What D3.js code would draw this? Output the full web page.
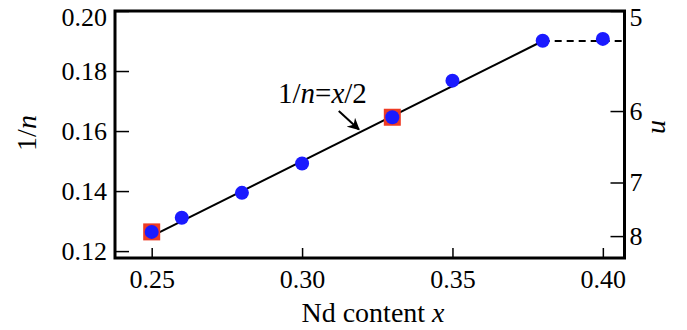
<!DOCTYPE html>
<meta charset="utf-8">
<style>
body { margin: 0; background: #fff; }
.axis .domain { display: none; }
.axis line { stroke: #000; stroke-width: 1.5px; }
</style>
<svg width="687" height="330"></svg>
<script src="https://cdn.jsdelivr.net/npm/d3@7"></script>
<script>

// measured points (Nd content x, 1/n)
var ndContent = [0.25, 0.26, 0.28, 0.30, 0.33, 0.35, 0.38, 0.40];
var invN = [0.1264, 0.1311, 0.1394, 0.1492, 0.1646, 0.1768, 0.1901, 0.1907];

// points highlighted with red squares
var squareX = [0.25, 0.33];
var squareY = [0.1264, 0.1646];

// 1/n = x/2 line and the flat dashed part
var fitX = [0.25, 0.38];
var fitY = [0.125, 0.19];
var dashX = [0.38, 0.4072];
var dashY = [0.19, 0.19];

// ticks
var xTicks = [0.25, 0.30, 0.35, 0.40];
var yTicks = [0.12, 0.14, 0.16, 0.18, 0.20];
var nTicks = [5, 6, 7, 8];

// annotation
var noteX = 0.292, noteY = 0.1693;
var arrowX = [0.3122, 0.3189], arrowY = [0.1667, 0.1605];

var serif = "\"Liberation Serif\", \"DejaVu Serif\", \"Times New Roman\", serif";

var svg = d3.select("svg")
    .attr("font-family", serif)
    .style("font-family", serif);

var xScale = d3.scaleLinear().domain([0.2378, 0.4072]).range([115, 624.5]),
    yScale = d3.scaleLinear().domain([0.1177, 0.2]).range([258, 11]);

var x0 = xScale.range()[0], x1 = xScale.range()[1],
    y0 = yScale.range()[1], y1 = yScale.range()[0];

svg.append("defs").append("marker")
    .attr("id", "arrow")
    .attr("viewBox", "0 0 10 10")
    .attr("refX", 9).attr("refY", 5)
    .attr("markerWidth", 6).attr("markerHeight", 6)
    .attr("orient", "auto")
  .append("path")
    .attr("d", "M0,0 L10,5 L0,10 L3,5 z")
    .attr("fill", "#000");

function styleAxis(g) {
  g.attr("font-family", serif)
   .attr("font-size", 26);
  g.selectAll("text")
   .style("font-family", serif)
   .style("font-size", "26px")
   .attr("fill", "#000");
}

// axes, ticks pointing inward
svg.append("g")
    .attr("class", "axis")
    .attr("transform", "translate(0," + y1 + ")")
    .call(d3.axisBottom(xScale).tickValues(xTicks).tickSize(-10).tickPadding(12)
      .tickFormat(d3.format(".2f")))
    .call(styleAxis);

svg.append("g")
    .attr("class", "axis")
    .attr("transform", "translate(" + x0 + ",0)")
    .call(d3.axisLeft(yScale).tickValues(yTicks).tickSize(-14).tickPadding(8)
      .tickFormat(d3.format(".2f")))
    .call(styleAxis)
    .selectAll("text")
    .filter(function(d) { return d === 0.20; })
    .attr("dy", "0.55em");

svg.append("g")
    .attr("class", "axis")
    .attr("transform", "translate(" + x1 + ",0)")
    .call(d3.axisRight(yScale).tickValues(nTicks.map(function(n) { return 1 / n; }))
      .tickSize(-14).tickPadding(5)
      .tickFormat(function(d) { return Math.round(1 / d); }))
    .call(styleAxis)
    .selectAll("text")
    .filter(function(d) { return Math.round(1 / d) === 5; })
    .attr("dy", "0.55em");

// frame
svg.append("rect")
    .attr("x", x0).attr("y", y0)
    .attr("width", x1 - x0).attr("height", y1 - y0)
    .attr("fill", "none")
    .attr("stroke", "#000")
    .attr("stroke-width", 3);

// axis titles
svg.append("text")
    .attr("x", 373).attr("y", 322)
    .attr("text-anchor", "middle")
    .style("font-family", serif)
    .style("font-size", "28px")
    .html('Nd content <tspan font-style="italic">x</tspan>');

svg.append("text")
    .attr("transform", "translate(36,133) rotate(-90)")
    .attr("text-anchor", "middle")
    .style("font-family", serif)
    .style("font-size", "28px")
    .html('1/<tspan font-style="italic">n</tspan>');

svg.append("text")
    .attr("transform", "translate(652,127) rotate(90)")
    .attr("text-anchor", "middle")
    .style("font-family", serif)
    .style("font-size", "28px")
    .style("font-style", "italic")
    .text("n");

// lines
var line = d3.line()
    .x(function(d) { return xScale(d[0]); })
    .y(function(d) { return yScale(d[1]); });

svg.append("path")
    .attr("d", line(d3.zip(fitX, fitY)))
    .attr("fill", "none")
    .attr("stroke", "#000")
    .attr("stroke-width", 2);

svg.append("path")
    .attr("d", line(d3.zip(dashX, dashY)))
    .attr("fill", "none")
    .attr("stroke", "#000")
    .attr("stroke-width", 2)
    .attr("stroke-dasharray", "7,5");

// annotation
svg.append("text")
    .attr("x", xScale(noteX)).attr("y", yScale(noteY))
    .style("font-family", serif)
    .style("font-size", "29px")
    .html('1/<tspan font-style="italic">n</tspan>=<tspan font-style="italic">x</tspan>/2');

svg.append("path")
    .attr("d", line(d3.zip(arrowX, arrowY)))
    .attr("stroke", "#000")
    .attr("stroke-width", 2)
    .attr("marker-end", "url(#arrow)");

// squares then circles
svg.selectAll(".sq")
    .data(d3.zip(squareX, squareY))
    .enter().append("rect")
    .attr("class", "sq")
    .attr("x", function(d) { return xScale(d[0]) - 8.5; })
    .attr("y", function(d) { return yScale(d[1]) - 8.5; })
    .attr("width", 17).attr("height", 17)
    .attr("fill", "#ee3b24");

svg.selectAll(".pt")
    .data(d3.zip(ndContent, invN))
    .enter().append("circle")
    .attr("class", "pt")
    .attr("cx", function(d) { return xScale(d[0]); })
    .attr("cy", function(d) { return yScale(d[1]); })
    .attr("r", 7)
    .attr("fill", "#1a1aff");

</script>
